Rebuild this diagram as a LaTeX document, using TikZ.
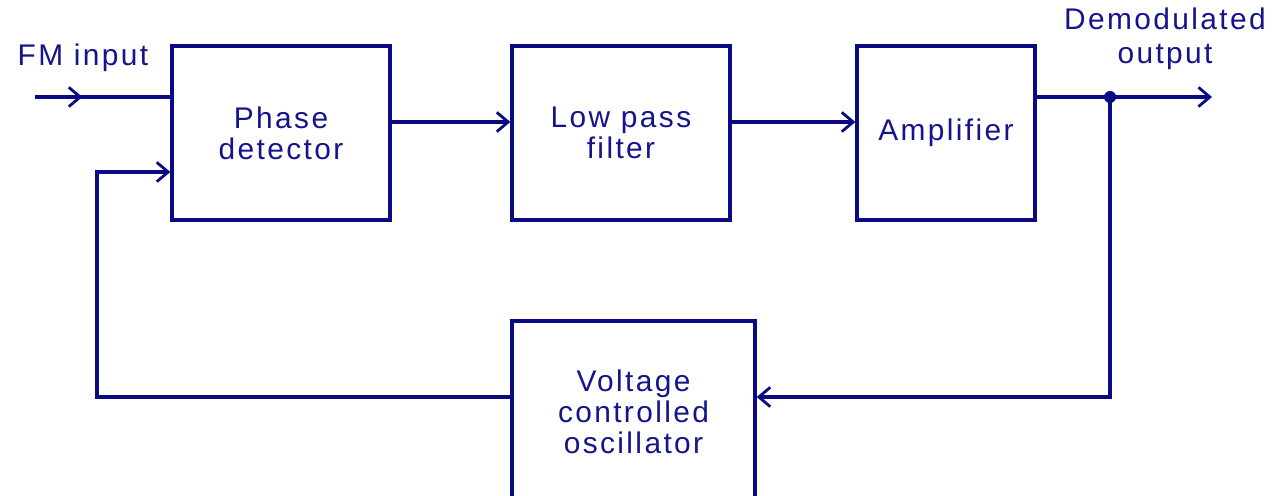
\documentclass[tikz,border=0pt]{standalone}
\usepackage{fontspec}
\setmainfont{Liberation Sans}[LetterSpace=8]
\usepackage{tikz}
\usetikzlibrary{positioning,arrows.meta,calc,decorations.markings}
\definecolor{pllnavy}{HTML}{0A0A84}
\definecolor{plltext}{HTML}{14148C}

\begin{document}
\begin{tikzpicture}[x=0.02cm,y=0.02cm,
    wire/.style={draw=pllnavy,line width=1.9pt},
    tip/.style={-{Straight Barb[length=6.5pt,width=11pt,line width=1.6pt]}},
    blk/.style={draw=pllnavy,line width=1.9pt,rectangle,align=center,
      text=plltext,minimum height=3.48cm,
      font=\fontsize{17pt}{17.8pt}\selectfont},
    lbl/.style={align=center,text=plltext,
      font=\fontsize{17pt}{19.3pt}\selectfont}]
  \useasboundingbox (0,0) rectangle (1277,496);
  % blocks
  \node[blk,minimum width=4.36cm] (pd) at (281,363) {Phase\\detector};
  \node[blk,minimum width=4.36cm] (lpf) at (621,363) {Low pass\\filter};
  \node[blk,minimum width=3.56cm] (amp) at (946,363) {Amplifier};
  \node[blk,minimum width=4.86cm,minimum height=3.64cm] (vco) at (633.5,84)
    {Voltage\\controlled\\oscillator};
  % free ends
  \coordinate (fmin) at (35,399);
  \coordinate (fbx) at (97,324);
  \coordinate (tap) at (1110,399);
  \coordinate (outend) at (1212,399);
  \node[lbl] (fmlab) at (83,438) {FM input};
  \node[lbl] (outlab) at (1165,457) {Demodulated\\output};
  % connectors
  \draw[wire,postaction={decorate},decoration={markings,
      mark=at position 0.35 with {\arrow{Straight Barb[length=6.5pt,width=11pt,line width=1.6pt]}}}]
    (fmin) -- (fmin -| pd.west);
  \draw[wire,tip] ([yshift=0.22cm]pd.east) -- ([yshift=0.22cm]lpf.west);
  \draw[wire,tip] ([yshift=0.22cm]lpf.east) -- ([yshift=0.22cm]amp.west);
  \draw[wire,tip] (amp.east |- tap) -- (outend);
  \fill[pllnavy] (tap) circle (6);
  \draw[wire,tip] (tap) |- ([yshift=0.3cm]vco.east);
  \draw[wire,tip] ([yshift=0.3cm]vco.west) -| (fbx) -- (fbx -| pd.west);
\end{tikzpicture}
\end{document}
